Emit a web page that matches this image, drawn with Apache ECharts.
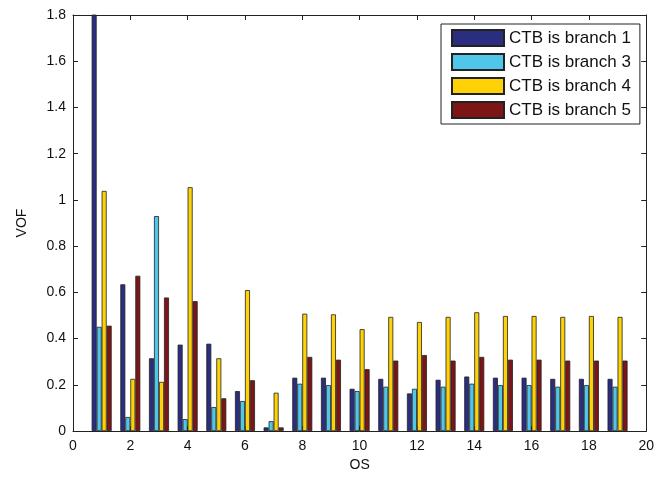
<!DOCTYPE html>
<html>
<head>
<meta charset="utf-8">
<script src="https://cdn.jsdelivr.net/npm/echarts@6/dist/echarts.min.js"></script>
<style>
  html, body { margin: 0; padding: 0; background: #fff; }
  #chart { width: 657px; height: 477px; }
</style>
</head>
<body>
<div id="chart"></div>
<script>
// Operating scenarios (OS) 1..19
const scenarios = [1, 2, 3, 4, 5, 6, 7, 8, 9, 10, 11, 12, 13, 14, 15, 16, 17, 18, 19];

// VOF per scenario for each choice of CTB branch
const branch1 = [2.0, 0.635, 0.315, 0.374, 0.378, 0.173, 0.016, 0.231, 0.231, 0.183, 0.226, 0.163, 0.222, 0.236, 0.231, 0.231, 0.226, 0.226, 0.226];
const branch3 = [0.451, 0.061, 0.930, 0.052, 0.104, 0.130, 0.043, 0.205, 0.199, 0.173, 0.192, 0.183, 0.192, 0.205, 0.199, 0.199, 0.192, 0.199, 0.192];
const branch4 = [1.039, 0.226, 0.213, 1.055, 0.315, 0.610, 0.166, 0.508, 0.505, 0.441, 0.494, 0.472, 0.494, 0.514, 0.498, 0.498, 0.494, 0.498, 0.494];
const branch5 = [0.456, 0.672, 0.578, 0.562, 0.142, 0.220, 0.016, 0.321, 0.309, 0.268, 0.305, 0.329, 0.305, 0.321, 0.309, 0.309, 0.305, 0.305, 0.305];

const seriesNames = ['CTB is branch 1', 'CTB is branch 3', 'CTB is branch 4', 'CTB is branch 5'];
const seriesValues = [branch1, branch3, branch4, branch5];
const seriesColors = ['#2a2d80', '#4fc6ea', '#fed206', '#7d1416'];

const FONT = '"Liberation Sans", Arial, Helvetica, sans-serif';
const AXIS_COLOR = '#222';

const chart = echarts.init(document.getElementById('chart'), null, { renderer: 'canvas' });

const baseAxis = {
  axisLine: { show: true, onZero: false, lineStyle: { color: AXIS_COLOR, width: 1 } },
  axisTick: { show: true, inside: true, length: 5, lineStyle: { color: AXIS_COLOR } },
  splitLine: { show: false }
};

chart.setOption({
  backgroundColor: '#fff',
  animation: false,
  textStyle: { fontFamily: FONT },
  grid: { left: 73, right: 8, top: 15, bottom: 44, containLabel: false },
  legend: {
    orient: 'vertical',
    left: 441,
    top: 24,
    icon: 'rect',
    itemWidth: 52,
    itemHeight: 16,
    itemGap: 6,
    padding: [5, 9, 5, 10],
    borderColor: AXIS_COLOR,
    borderWidth: 1,
    backgroundColor: '#fff',
    textStyle: { fontFamily: FONT, fontSize: 17, color: '#111' },
    data: seriesNames
  },
  xAxis: [
    Object.assign({}, baseAxis, {
      type: 'value', min: 0, max: 20, interval: 2,
      name: 'OS', nameLocation: 'middle', nameGap: 26,
      nameTextStyle: { fontFamily: FONT, fontSize: 14, color: '#111' },
      axisLabel: { fontFamily: FONT, fontSize: 14, color: '#111', margin: 8 }
    }),
    Object.assign({}, baseAxis, {
      type: 'value', min: 0, max: 20, interval: 2, position: 'top',
      axisLabel: { show: false }
    })
  ],
  yAxis: [
    Object.assign({}, baseAxis, {
      type: 'value', min: 0, max: 1.8, interval: 0.2,
      name: 'VOF', nameLocation: 'middle', nameGap: 44,
      nameTextStyle: { fontFamily: FONT, fontSize: 14, color: '#111' },
      axisLabel: { fontFamily: FONT, fontSize: 14, color: '#111', margin: 7 }
    }),
    Object.assign({}, baseAxis, {
      type: 'value', min: 0, max: 1.8, interval: 0.2, position: 'right',
      axisLabel: { show: false }
    })
  ],
  series: seriesNames.map((name, i) => ({
    name: name,
    type: 'bar',
    xAxisIndex: 0,
    yAxisIndex: 0,
    barWidth: 5,
    barGap: '0%',
    clip: true,
    itemStyle: { color: seriesColors[i], borderColor: AXIS_COLOR, borderWidth: 0.8 },
    data: scenarios.map((s, k) => [s, seriesValues[i][k]])
  }))
});
</script>
</body>
</html>
